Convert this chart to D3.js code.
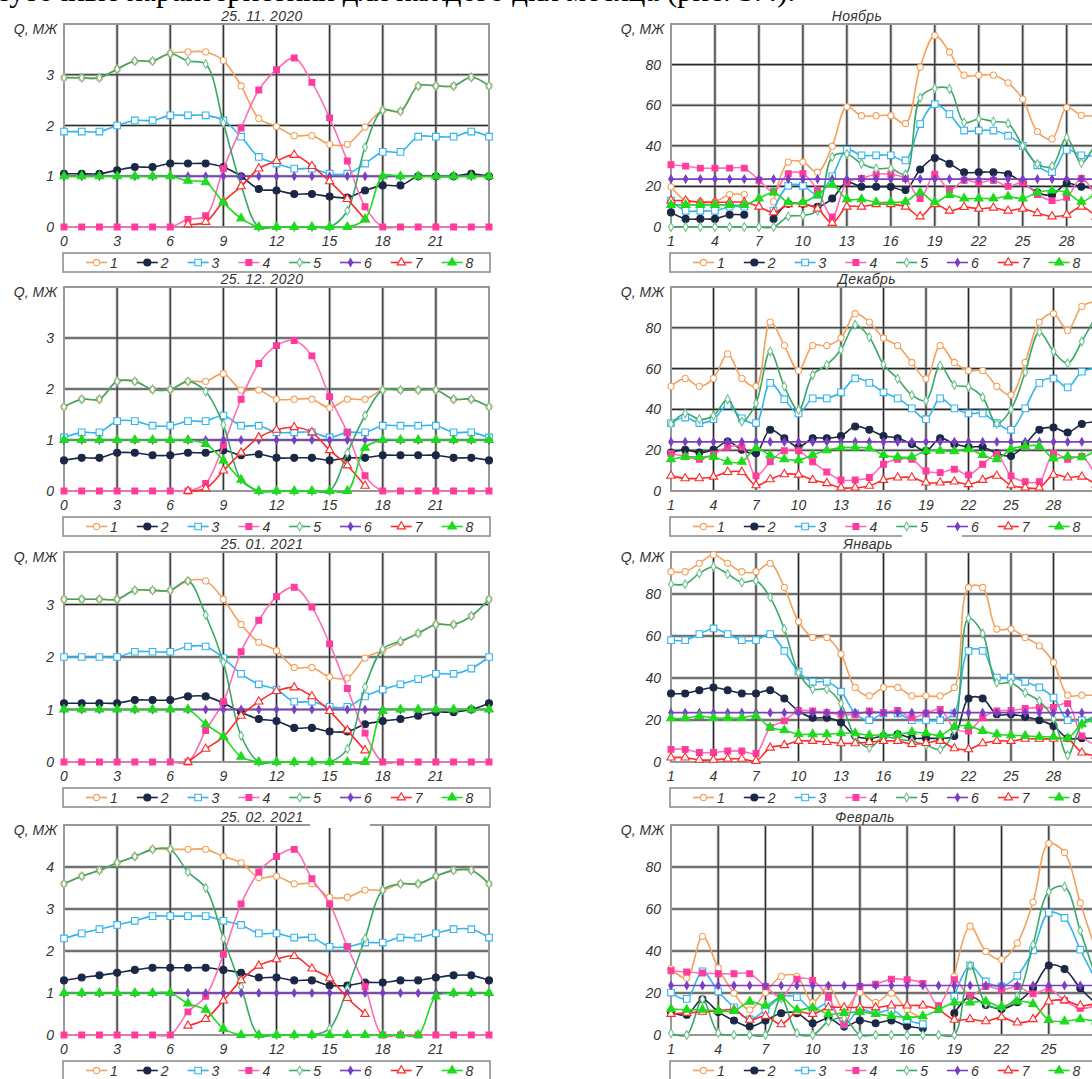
<!DOCTYPE html>
<html><head><meta charset="utf-8">
<script src="https://cdn.jsdelivr.net/npm/d3@7"></script>
<style>
html,body{margin:0;padding:0;background:#fff;overflow:hidden}
svg{display:block}
</style></head><body>
<svg id="fig" width="1092" height="1079"></svg>
<script>
// ---- categories ----
const hours = [0,1,2,3,4,5,6,7,8,9,10,11,12,13,14,15,16,17,18,19,20,21,22,23,24];
const novDays = [1,2,3,4,5,6,7,8,9,10,11,12,13,14,15,16,17,18,19,20,21,22,23,24,25,26,27,28,29,30];
const decDays = [1,2,3,4,5,6,7,8,9,10,11,12,13,14,15,16,17,18,19,20,21,22,23,24,25,26,27,28,29,30,31];
const janDays = [1,2,3,4,5,6,7,8,9,10,11,12,13,14,15,16,17,18,19,20,21,22,23,24,25,26,27,28,29,30,31];
const febDays = [1,2,3,4,5,6,7,8,9,10,11,12,13,14,15,16,17,18,19,20,21,22,23,24,25,26,27,28];
const seriesNames = ["1","2","3","4","5","6","7","8"];

// ---- tick labels ----
const hourTicks = [0,3,6,9,12,15,18,21];
const hourYTicks = [0,1,2,3];
const hourYTicksFeb = [0,1,2,3,4];
const monthTicks = [1,4,7,10,13,16,19,22,25,28];
const febTicks = [1,4,7,10,13,16,19,22,25];
const monthYTicks = [0,20,40,60,80];

// ---- hourly profiles, Q in MJ (series 1..8) ----
const day_2020_11_25 = [
  [2.94,2.94,2.94,3.11,3.27,3.27,3.42,3.45,3.45,3.28,2.78,2.14,1.98,1.8,1.8,1.63,1.63,1.97,2.3,2.28,2.78,2.78,2.78,2.95,2.78],
  [1.05,1.05,1.05,1.12,1.18,1.18,1.25,1.25,1.25,1.18,1.0,0.75,0.72,0.65,0.65,0.6,0.58,0.72,0.82,0.82,1.0,1.0,1.0,1.05,1.0],
  [1.88,1.88,1.88,2.0,2.1,2.1,2.2,2.2,2.2,2.1,1.78,1.38,1.25,1.15,1.15,1.05,1.05,1.25,1.48,1.48,1.78,1.78,1.78,1.88,1.78],
  [0,0,0,0,0,0,0,0.15,0.22,1.15,1.95,2.7,3.1,3.33,2.85,2.15,1.3,0.4,0,0,0,0,0,0,0],
  [2.94,2.94,2.94,3.11,3.27,3.27,3.42,3.27,3.21,2.05,0.82,0,0,0,0,0,0.32,1.57,2.3,2.28,2.78,2.78,2.78,2.95,2.78],
  [1,1,1,1,1,1,1,1,1,1,1,1,1,1,1,1,1,1,1,1,1,1,1,1,1],
  [null,null,null,null,null,null,null,0.05,0.1,0.5,0.8,1.15,1.3,1.42,1.2,0.9,0.55,0.15,null,null,null,null,null,null,null],
  [1,1,1,1,1,1,1,0.91,0.88,0.48,0.17,0,0,0,0,0,0,0.15,1.0,1,1,1,1,1,1]
];
const day_2020_12_25 = [
  [1.65,1.8,1.8,2.15,2.15,1.99,1.99,2.15,2.15,2.3,1.98,1.98,1.8,1.8,1.8,1.63,1.8,1.8,1.98,1.98,1.98,1.98,1.8,1.8,1.65],
  [0.6,0.65,0.65,0.75,0.75,0.7,0.7,0.75,0.75,0.8,0.7,0.72,0.65,0.65,0.65,0.6,0.65,0.65,0.7,0.7,0.7,0.7,0.65,0.65,0.6],
  [1.05,1.15,1.15,1.37,1.37,1.28,1.28,1.37,1.37,1.48,1.28,1.28,1.15,1.15,1.15,1.05,1.15,1.15,1.28,1.28,1.28,1.28,1.15,1.15,1.05],
  [0,0,0,0,0,0,0,0,0.15,0.9,1.8,2.5,2.85,2.95,2.65,1.85,1.15,0.3,0,0,0,0,0,0,0],
  [1.65,1.8,1.8,2.15,2.15,1.99,1.99,2.15,1.95,1.3,0.22,0,0,0,0,0,0.75,1.48,1.98,1.98,1.98,1.98,1.8,1.8,1.65],
  [1,1,1,1,1,1,1,1,1,1,1,1,1,1,1,1,1,1,1,1,1,1,1,1,1],
  [null,null,null,null,null,null,null,0,0.05,0.4,0.75,1.05,1.2,1.25,1.15,0.8,0.5,0.1,null,null,null,null,null,null,null],
  [1,1,1,1,1,1,1,1,0.92,0.6,0.22,0,0,0,0,0,0,0.85,1,1,1,1,1,1,1]
];
const day_2021_01_25 = [
  [3.1,3.1,3.1,3.1,3.27,3.27,3.27,3.45,3.45,3.1,2.62,2.28,2.12,1.8,1.8,1.62,1.6,1.98,2.12,2.28,2.45,2.62,2.62,2.78,3.1],
  [1.12,1.12,1.12,1.12,1.18,1.18,1.18,1.25,1.25,1.12,0.95,0.82,0.78,0.65,0.65,0.58,0.58,0.72,0.78,0.82,0.88,0.95,0.95,1.0,1.12],
  [2.0,2.0,2.0,2.0,2.1,2.1,2.1,2.2,2.2,1.98,1.68,1.48,1.38,1.15,1.15,1.05,1.05,1.25,1.38,1.48,1.58,1.68,1.68,1.78,2.0],
  [0,0,0,0,0,0,0,0,0.6,1.15,2.1,2.7,3.15,3.33,2.95,2.25,1.4,0.55,0,0,0,0,0,0,0],
  [3.1,3.1,3.1,3.1,3.27,3.27,3.27,3.45,2.8,1.9,0.5,0,0,0,0,0,0.25,1.43,2.15,2.3,2.45,2.62,2.62,2.78,3.1],
  [1,1,1,1,1,1,1,1,1,1,1,1,1,1,1,1,1,1,1,1,1,1,1,1,1],
  [null,null,null,null,null,null,null,0,0.25,0.48,0.88,1.15,1.35,1.42,1.25,0.97,0.6,0.22,null,null,null,null,null,null,null],
  [1,1,1,1,1,1,1,1,0.72,0.48,0.1,0,0,0,0,0,0,0,0.97,1,1,1,1,1,1]
];
const day_2021_02_25 = [
  [3.6,3.78,3.92,4.1,4.25,4.42,4.42,4.42,4.42,4.25,4.1,3.75,3.78,3.6,3.6,3.28,3.28,3.45,3.45,3.6,3.6,3.78,3.92,3.92,3.6],
  [1.3,1.37,1.42,1.48,1.55,1.6,1.6,1.6,1.6,1.55,1.48,1.37,1.37,1.3,1.3,1.18,1.18,1.25,1.25,1.3,1.3,1.37,1.42,1.42,1.3],
  [2.3,2.42,2.52,2.62,2.72,2.83,2.83,2.83,2.83,2.72,2.62,2.42,2.42,2.32,2.32,2.1,2.1,2.2,2.2,2.32,2.32,2.42,2.52,2.52,2.32],
  [0,0,0,0,0,0,0,0.55,0.92,1.92,3.12,3.88,4.25,4.42,3.72,3.12,2.1,1.15,0,0,0,0,0,0,0],
  [3.6,3.78,3.92,4.1,4.25,4.42,4.42,3.88,3.5,2.3,1.15,0,0,0,0,0.15,1.1,2.3,3.45,3.6,3.6,3.78,3.92,3.92,3.6],
  [1,1,1,1,1,1,1,1,1,1,1,1,1,1,1,1,1,1,1,1,1,1,1,1,1],
  [null,null,null,null,null,null,null,0.22,0.38,0.82,1.3,1.65,1.8,1.88,1.58,1.35,0.88,0.5,null,null,null,null,null,null,null],
  [1,1,1,1,1,1,1,0.75,0.6,0.15,0,0,0,0,0,0,0,0,0,0,0,0.92,1,1,1]
];

// ---- daily totals per month, Q in MJ (series 1..8) ----
const month_2020_11 = [
  [19.8,13,12.5,12.5,16,16,null,12.5,32,32,27,39.8,59.2,54.8,54.8,54.8,51,78.7,94.3,86.2,74.8,74.8,74.8,71,63,47,43.4,58.9,55,55],
  [7.2,4,4,4,6,6,null,4,11.4,11.4,10,14,22,19.8,19.8,19.8,18.2,28.3,34,31.2,27,27,27,26,22,17,15.8,21.5,19.8,19],
  [13,8,8,8,10,10,null,8.1,20.3,20.3,15.8,25,38,35.3,35.3,35.3,32.8,50.7,60.5,55.6,47.5,47.5,47.5,45,40,30.4,27,38,35.3,35],
  [30.7,30,29,29,29,29,23,17.4,26.3,26.3,18.2,4.9,22,23.9,26,26,23.9,14,26,18.2,23,21.8,23,20,21.8,16,13,14.6,23.9,15],
  [0,0,0,0,0,0,0,0,5.2,5.7,8.1,34.5,36,31.2,28.8,28.8,26,63.7,68.3,68,51.5,53.2,52,51,40,31,30,44,31.5,42],
  [23.6,23.6,23.6,23.6,23.6,23.6,23.6,23.6,23.6,23.6,23.6,23.6,23.6,23.6,23.6,23.6,23.6,23.6,23.6,23.6,23.6,23.6,23.6,23.6,23.6,23.6,23.6,23.6,23.6,23.6],
  [13,13,12.2,12.2,12.2,12.2,10,7.2,11.2,11.2,9,2,10,10,11.2,11.2,10,5.2,11.2,8,9.8,9,9.5,8,9,6.8,5.2,6,10,5],
  [10.9,10.9,10.9,10.9,10.9,10.9,14,17,12.2,12.2,15.8,21,13.7,13.7,12.2,12.2,12.5,17,12.2,15.8,14.1,14.1,14,15,14,17,18,17,12.5,17]
];
const month_2020_12 = [
  [51.3,55.2,51.3,55.2,67.2,55.2,51.3,82.8,71.3,59,71.3,71.3,75,86.9,82.8,75,71.3,63,55,71.3,63,59,59,51.3,47,63,82.8,86.9,78.7,90.5,93],
  [18.9,20.2,18.9,20.2,24.3,20.2,18.5,30,25.9,21.6,25.9,25.9,27,31.6,30,27,25.9,23,19.7,25.9,23,21.6,21.6,18.5,17.2,23,30,31.1,28.7,32.8,34],
  [33.3,36,33.3,35.2,42.1,35.6,33.3,53,45,38,45.4,45.4,48.4,55.2,53,48.4,45.4,40.5,35.2,45.4,40.5,38,38,33.3,30,40.5,53,55.2,50.8,58.5,60],
  [18.4,16.9,15.6,18,21.6,21.6,7.4,14.3,19.7,19.7,14.3,9.3,5.4,5.4,6.6,13.1,15.6,15.6,9.8,9,10.7,7.9,13.1,18,7.4,4.6,4.6,18.4,15.6,16.9,7],
  [32.8,38,35.2,36.9,45,34,43,68.4,51.3,39.7,56.9,61.8,69.2,81.5,75.4,62,55,47,44.3,61.5,52,51,45.9,33,40,58.2,77.9,68.4,62.6,73.3,86],
  [24.1,24.1,24.1,24.1,24.1,24.1,24.1,24.1,24.1,24.1,24.1,24.1,24.1,24.1,24.1,24.1,24.1,24.1,24.1,24.1,24.1,24.1,24.1,24.1,24.1,24.1,24.1,24.1,24.1,24.1,24.1],
  [7.4,6.2,6.2,7,9.3,9.3,2.8,5.7,8.2,8,5.4,3.8,1.6,1.6,2.5,5.4,6.6,6.6,4.1,4.1,4.6,3.3,5.4,7.4,2.8,1.6,1.6,7.9,6.6,7,3],
  [15.6,16.7,16.7,16.7,14.3,14.3,21,17.5,15.6,15.1,17.7,20,21.3,21.3,21,17.7,16.7,16.7,19.7,19.7,19.5,20.5,17.7,15.6,20.5,22,22,16,17,16.5,20]
];
const month_2021_01 = [
  [90.6,90.6,94.6,98.7,94.6,90.6,90.6,94.6,83.1,66.9,59.3,59.3,51.4,35.5,31.5,35.5,35.5,31.5,31.5,31.5,35.5,83.1,83.1,63.3,63.3,59.3,55.3,47.4,31.8,31.8,31.8],
  [32.6,32.6,34.2,35.5,34.2,32.6,32.6,34.2,30.2,24.3,21.1,21.1,18.8,12.4,11.3,12.4,13.2,11.3,11.3,11.3,12.4,30.2,30.2,22.7,22.7,21.5,19.9,17.2,11.3,11.3,11.3],
  [58,58,60.9,63.6,60.9,58,58,60.9,52.9,43,38.2,38.2,33.5,23.2,19.9,23.2,23.2,19.9,19.9,19.9,23.2,52.9,52.9,40.2,40.2,38.2,35.5,30.7,19.9,19.9,19.9],
  [6,6,4.5,4.5,5.2,5.2,4.1,16.4,19.6,24.3,24.3,23.5,22.7,22.5,24.3,23.5,24.5,21.1,23.2,25,16,14.8,21.1,24.3,24.5,25.5,26,26,27.8,12.4,8],
  [84.7,84.7,89.8,93,89.5,85.5,86.3,78.4,63.3,42.6,34.7,34.7,27.8,11.9,6.8,11.9,10.8,10,8.1,6,15.1,68.4,61.2,37.8,37.8,33,29,20.7,3.2,18,22],
  [23.5,23.5,23.5,23.5,23.5,23.5,23.5,23.5,23.5,23.5,23.5,23.5,23.5,23.5,23.5,23.5,23.5,23.5,23.5,23.5,23.5,23.5,23.5,23.5,23.5,23.5,23.5,23.5,23.5,23.5,23.5],
  [2.1,2.1,1,1,1.5,1.5,0.5,6.8,8,10,10,9.5,8.9,8.9,9.5,10,10,8.5,9,10,6.5,6,8.9,10,10,11,11,11,11,4.5,3],
  [20.8,20.8,21.9,21,21,21,21.9,16.4,15.1,13.2,13.2,13.2,13.7,13.7,12.7,13,13,14.3,13.7,12.7,16.7,17.2,14.8,13.2,12.7,12.5,12,12,11.3,18,20]
];
const month_2021_02 = [
  [31.6,27.1,47,31.9,19.9,12,20.2,27.9,27.9,15.5,23.1,12,20.2,15.5,19.9,12,8,null,27.9,51.8,39.8,35.9,43.8,63.3,91.2,86.9,63,40],
  [11,9.6,17,11,6.9,4,6.9,10.4,10.4,5.6,8,4,6.9,5.6,6.9,4.3,3.2,null,10.4,18.3,14.3,12.4,15.6,22.3,33.1,31.4,22.3,15],
  [20.2,17.2,30.3,20.7,13.2,7.5,12,18,18,12,15.1,5.1,12,10.4,12,7.2,5.1,null,18.3,33,25.5,23.1,28.2,40.3,58.2,55.8,40.6,26],
  [30.6,30,29.5,29.2,29.2,29.2,23.1,18,26.6,26,18,5.1,23.1,24.2,26.6,26.3,24.5,14,26.3,18.6,23.1,21.5,23.1,19.6,22,16.5,12.7,14],
  [0.8,0,17,1,0,0,0,17.5,1,0,6.4,8,0,0,0,0,0,0,0,33.1,15.1,13.2,18.3,43,68.2,70.6,49.7,27],
  [23.6,23.6,23.6,23.6,23.6,23.6,23.6,23.6,23.6,23.6,23.6,23.6,23.6,23.6,23.6,23.6,23.6,23.6,23.6,23.6,23.6,23.6,23.6,23.6,23.6,23.6,23.6,23.6],
  [10,10.5,11,11.5,12,7.2,9.1,5.1,11,10,13.1,13.1,13.1,13.1,14,14,14,12,7.2,7.5,6.5,8.4,5.9,7.5,15.9,16.5,14,15],
  [12.4,12,12,11.5,11.5,15.9,14,18,12,13,10,10.5,11,10,9.1,8.5,9,12,15.5,15.5,16,13.5,16,14.8,7.2,6.5,7.5,6.5]
];

// ---- drawing ----
const svg = d3.select('#fig');
const sans = '"Liberation Sans", Arial, sans-serif';
const ink = '#333';

// running text line above the figure, mostly cut off by the page top
svg.append('text')
  .attr('x', -4).attr('y', 1)
  .attr('font-family', '"Liberation Serif","Times New Roman",serif')
  .attr('font-size', 31).attr('fill', '#000')
  .text('суточные характеристики для каждого дня месяца (рис. 3.4).');

const rows = [
  {top: 24, bottom: 227},
  {top: 287, bottom: 491},
  {top: 552, bottom: 762},
  {top: 825, bottom: 1035}
];
const cols = {left: {x0: 64, x1: 489}, right: {x0: 671, x1: 1096}};

const styles = [
  {stroke: '#F4A15C', line: '#F4A15C', sym: d3.symbolCircle, size: 30, fill: '#fff'},
  {stroke: '#1B2845', line: '#1B2845', sym: d3.symbolCircle, size: 38, fill: '#1B2845'},
  {stroke: '#33B4F0', line: '#33B4F0', sym: d3.symbolSquare, size: 44, fill: '#fff'},
  {stroke: '#FF3C9C', line: '#FF6DB4', sym: d3.symbolSquare, size: 34, fill: '#FF3C9C'},
  {stroke: '#6FC28E', line: '#3AA866', sym: d3.symbolDiamond, size: 22, fill: '#fff'},
  {stroke: '#7B3FC2', line: '#7B3FC2', sym: d3.symbolDiamond, size: 18, fill: '#7B3FC2'},
  {stroke: '#FF2A2A', line: '#FF2A2A', sym: d3.symbolTriangle, size: 30, fill: '#fff'},
  {stroke: '#1FDA1F', line: '#1FDA1F', sym: d3.symbolTriangle, size: 32, fill: '#1FDA1F'}
];

const panels = [
  {col: 'left', row: 0, title: '25. 11. 2020', tx: 262, cats: hours, data: day_2020_11_25, dom: [0, 24], xt: hourTicks, yMax: 4, yt: hourYTicks},
  {col: 'left', row: 1, title: '25. 12. 2020', tx: 262, cats: hours, data: day_2020_12_25, dom: [0, 24], xt: hourTicks, yMax: 4, yt: hourYTicks},
  {col: 'left', row: 2, title: '25. 01. 2021', tx: 262, cats: hours, data: day_2021_01_25, dom: [0, 24], xt: hourTicks, yMax: 4, yt: hourYTicks},
  {col: 'left', row: 3, title: '25. 02. 2021', tx: 262, cats: hours, data: day_2021_02_25, dom: [0, 24], xt: hourTicks, yMax: 5, yt: hourYTicksFeb},
  {col: 'right', row: 0, title: 'Ноябрь', tx: 857, cats: novDays, data: month_2020_11, dom: [1, 30], xt: monthTicks, yMax: 100, yt: monthYTicks},
  {col: 'right', row: 1, title: 'Декабрь', tx: 867, cats: decDays, data: month_2020_12, dom: [1, 31], xt: monthTicks, yMax: 100, yt: monthYTicks},
  {col: 'right', row: 2, title: 'Январь', tx: 868, cats: janDays, data: month_2021_01, dom: [1, 31], xt: monthTicks, yMax: 100, yt: monthYTicks},
  {col: 'right', row: 3, title: 'Февраль', tx: 865, cats: febDays, data: month_2021_02, dom: [1, 28], xt: febTicks, yMax: 100, yt: monthYTicks}
];

function drawPanel(p) {
  const c = cols[p.col], r = rows[p.row];
  const x = d3.scaleLinear().domain(p.dom).range([c.x0, c.x1]);
  const y = d3.scaleLinear().domain([0, p.yMax]).range([r.bottom, r.top]);
  const g = svg.append('g');

  // grid: soft grey halo under a dark core line
  const hLines = p.yt.filter(v => v > 0);
  const vLines = p.xt.filter(v => v > p.dom[0]);
  [['#b8b8b8', 3], ['#2a2a2a', 1.1]].forEach(([col, w]) => {
    g.selectAll(null).data(hLines).join('line')
      .attr('x1', c.x0).attr('x2', c.x1).attr('y1', d => y(d)).attr('y2', d => y(d))
      .attr('stroke', col).attr('stroke-width', w);
    g.selectAll(null).data(vLines).join('line')
      .attr('x1', d => x(d)).attr('x2', d => x(d)).attr('y1', r.top).attr('y2', r.bottom)
      .attr('stroke', col).attr('stroke-width', w);
  });
  g.append('rect').attr('x', c.x0).attr('y', r.top)
    .attr('width', c.x1 - c.x0).attr('height', r.bottom - r.top)
    .attr('fill', 'none').attr('stroke', '#999').attr('stroke-width', 2);

  // y tick labels; the top line carries the unit label instead of a number
  g.selectAll(null).data(p.yt).join('text')
    .attr('x', c.x0 - 10).attr('y', d => y(d) + 5)
    .attr('text-anchor', 'end').attr('font-family', sans).attr('font-style', 'italic')
    .attr('font-size', 14).attr('fill', ink).text(d => d);
  g.append('text').attr('x', c.x0 - 7).attr('y', r.top + 10)
    .attr('text-anchor', 'end').attr('font-family', sans).attr('font-style', 'italic')
    .attr('font-size', 14).attr('fill', ink).text('Q, МЖ');

  // x tick labels
  g.selectAll(null).data(p.xt).join('text')
    .attr('x', d => x(d)).attr('y', r.bottom + 19)
    .attr('text-anchor', 'middle').attr('font-family', sans).attr('font-style', 'italic')
    .attr('font-size', 14).attr('fill', ink).text(d => d);

  // title
  g.append('text').attr('x', p.tx).attr('y', r.top - 3)
    .attr('text-anchor', 'middle').attr('font-family', sans).attr('font-style', 'italic')
    .attr('font-size', 14).attr('letter-spacing', 0.4).attr('fill', ink).text(p.title);

  // series: smoothed lines, then markers
  const line = d3.line()
    .defined(d => d.v != null)
    .x(d => x(d.x)).y(d => y(d.v))
    .curve(d3.curveCatmullRom.alpha(0.5));
  p.data.forEach((vals, si) => {
    const st = styles[si];
    const pts = vals.map((v, i) => ({x: p.cats[i], v}));
    g.append('path')
      .attr('d', line(pts))
      .attr('fill', 'none').attr('stroke', st.line).attr('stroke-width', 1.6);
    g.selectAll(null).data(pts.filter(d => d.v != null)).join('path')
      .attr('transform', d => `translate(${x(d.x)},${y(d.v)})`)
      .attr('d', d3.symbol(st.sym, st.size)())
      .attr('fill', st.fill).attr('stroke', st.stroke).attr('stroke-width', 1.1);
  });

  // legend
  const ly = r.bottom + 26, lh = 19;
  g.append('rect').attr('x', c.x0 - 1).attr('y', ly)
    .attr('width', c.x1 - c.x0 + 2).attr('height', lh)
    .attr('fill', '#fff').attr('stroke', '#8f8f8f').attr('stroke-width', 1.6);
  seriesNames.forEach((name, i) => {
    const st = styles[i];
    const bx = c.x0 + 50.8 * i;
    const cy = ly + lh / 2;
    g.append('line').attr('x1', bx + 22).attr('x2', bx + 43).attr('y1', cy).attr('y2', cy)
      .attr('stroke', st.line).attr('stroke-width', 1.6);
    g.append('path').attr('transform', `translate(${bx + 32.5},${cy})`)
      .attr('d', d3.symbol(st.sym, st.size)())
      .attr('fill', st.fill).attr('stroke', st.stroke).attr('stroke-width', 1.1);
    g.append('text').attr('x', bx + 46).attr('y', cy + 5)
      .attr('font-family', sans).attr('font-style', 'italic')
      .attr('font-size', 14).attr('fill', ink).text(name);
  });
}

panels.forEach(drawPanel);

// blank patches in the scan
svg.append('rect').attr('x', 310).attr('y', 819).attr('width', 60).attr('height', 9).attr('fill', '#fff');
svg.append('rect').attr('x', 902).attr('y', 532).attr('width', 60).attr('height', 8).attr('fill', '#fff');
</script></body></html>
